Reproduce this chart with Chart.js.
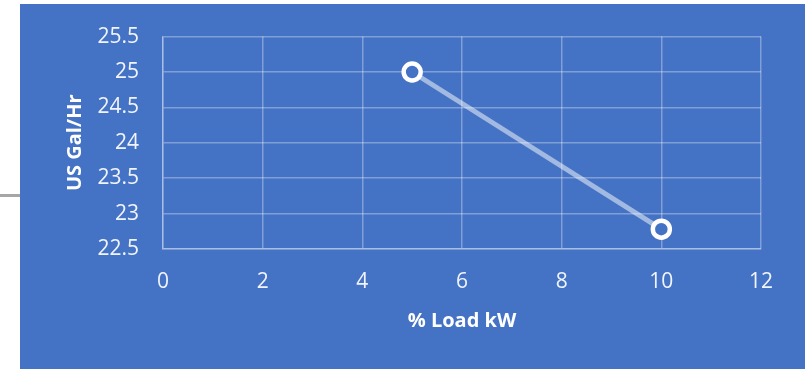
<!DOCTYPE html>
<html>
<head>
<meta charset="utf-8">
<script src="https://cdn.jsdelivr.net/npm/chart.js@4.4.1/dist/chart.umd.min.js"></script>
<style>
  html, body { margin: 0; padding: 0; background: #ffffff; }
  #wrap { position: relative; width: 808px; height: 369px; }
</style>
</head>
<body>
<div id="wrap"><canvas id="c" width="808" height="369"></canvas></div>
<script>
// Fuel consumption against load
const loadKW = [5, 10];
const galPerHr = [25, 22.78];
const xTickValues = [0, 2, 4, 6, 8, 10, 12];
const yTickValues = [22.5, 23, 23.5, 24, 24.5, 25, 25.5];

const panelBlue = '#4472C4';
const gridColor = 'rgba(255,255,255,0.32)';
const font = 'Open Sans';

// Page background, blue panel and the little grey connector on the left
const backdrop = {
  id: 'backdrop',
  beforeDraw(chart) {
    const ctx = chart.ctx;
    ctx.save();
    ctx.fillStyle = '#ffffff';
    ctx.fillRect(0, 0, chart.width, chart.height);
    ctx.fillStyle = panelBlue;
    ctx.fillRect(20, 4, 785, 365);
    ctx.fillStyle = '#a6a6a6';
    ctx.fillRect(0, 194, 20, 3);
    ctx.restore();
  }
};

const plainNumber = v => String(v);

new Chart(document.getElementById('c'), {
  type: 'scatter',
  data: {
    datasets: [{
      data: loadKW.map((x, i) => ({ x, y: galPerHr[i] })),
      showLine: true,
      borderColor: 'rgba(255,255,255,0.5)',
      borderWidth: 5,
      pointRadius: 8.5,
      pointBorderWidth: 4.5,
      pointBackgroundColor: panelBlue,
      pointBorderColor: '#ffffff',
      pointHoverRadius: 8.5
    }]
  },
  options: {
    responsive: false,
    animation: false,
    events: [],
    layout: { padding: { left: 0, right: 47, top: 36, bottom: 0 } },
    plugins: { legend: { display: false }, tooltip: { enabled: false } },
    scales: {
      x: {
        type: 'linear',
        min: 0, max: 12,
        afterBuildTicks: s => { s.ticks = xTickValues.map(v => ({ value: v })); },
        afterFit: s => { s.height = 120; },
        grid: { color: gridColor, lineWidth: 1.5, drawTicks: false },
        border: { color: gridColor, width: 1.5 },
        ticks: { color: 'rgba(255,255,255,0.92)', padding: 20, callback: plainNumber, font: { family: font, size: 21 } },
        title: {
          display: true, text: '% Load kW', color: '#ffffff',
          font: { family: font, size: 20, weight: 'bold' },
          padding: { top: 0, bottom: 36 }
        }
      },
      y: {
        min: 22.5, max: 25.5,
        afterBuildTicks: s => { s.ticks = yTickValues.map(v => ({ value: v })); },
        afterFit: s => { s.width = 163; },
        grid: { color: gridColor, lineWidth: 1.5, drawTicks: false },
        border: { color: gridColor, width: 1.5 },
        ticks: { color: 'rgba(255,255,255,0.92)', padding: 24, callback: plainNumber, font: { family: font, size: 21 } },
        title: {
          display: true, text: 'US Gal/Hr', color: '#ffffff',
          font: { family: font, size: 20, weight: 'bold' },
          padding: { top: 63, bottom: 0 }
        }
      }
    }
  },
  plugins: [backdrop]
});
</script>
</body>
</html>
